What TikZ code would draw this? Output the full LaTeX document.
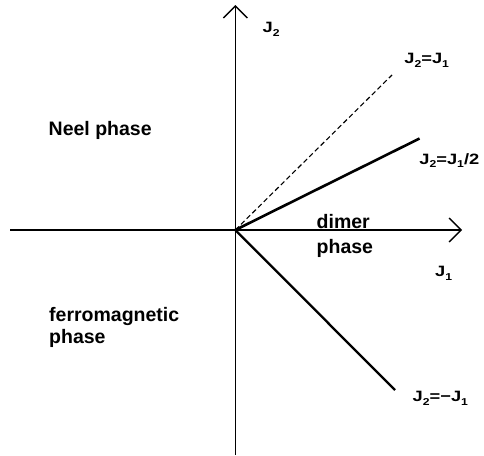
\documentclass[tikz,border=0pt]{standalone}
\usepackage{fontspec}
\setmainfont{Liberation Sans}
\newfontfamily\Jfont{Liberation Sans Bold}[FakeStretch=1.22]
\newfontfamily\Pfont{Liberation Sans Bold}
\newcommand\Jsub[1]{\raisebox{-3.7pt}{\fontsize{10}{11}\selectfont #1}}
\usetikzlibrary{arrows.meta}
\begin{document}
\begin{tikzpicture}[x=1pt,y=-1pt,
  plbl/.style={font=\Pfont\fontsize{19.5}{21}\selectfont, inner sep=0pt, anchor=base west},
  jlbl/.style={font=\Jfont\fontsize{15}{16}\selectfont, inner sep=0pt, anchor=base west},
  axis/.style={line width=1.4pt, -{Straight Barb[length=12pt,width=24pt,line width=1.4pt]}},
  thick line/.style={line width=2.6pt},
  mid line/.style={line width=2.3pt},
  dash line/.style={line width=1.1pt, dash pattern=on 5pt off 3pt}]
\useasboundingbox (0,0) rectangle (484,455);
\coordinate (O) at (235.3,230);
\coordinate (L) at (10,230);
\coordinate (R) at (462,230);
\coordinate (T) at (235.3,5);
\coordinate (B) at (235.3,455);
\coordinate (D) at (392,75);
\coordinate (H) at (419.5,138.5);
\coordinate (M) at (395,390);
\draw[axis] (B) -- (T);
\draw[axis] (O) -- (R);
\draw[thick line] (L) -- (O);
\draw[dash line] (O) -- (D);
\draw[thick line] (O) -- (H);
\draw[mid line] (O) -- (M);
\node[jlbl] (j2) at (262.5,32.3) {J\Jsub{2}};
\node[jlbl] (j2j1) at (404.2,63.3) {J\Jsub{2}=J\Jsub{1}};
\node[jlbl] (half) at (419.2,164) {J\Jsub{2}=J\Jsub{1}/2};
\node[jlbl] (j1) at (435,276.7) {J\Jsub{1}};
\node[jlbl] (neg) at (412.5,401.7) {J\Jsub{2}=−J\Jsub{1}};
\node[plbl] (neel) at (48.5,135) {Neel phase};
\node[plbl] (dimer) at (316.5,228.3) {dimer};
\node[plbl] (dphase) at (316.5,253.5) {phase};
\node[plbl] (ferro) at (49,321) {ferromagnetic};
\node[plbl] (fphase) at (49,343) {phase};
\end{tikzpicture}
\end{document}
